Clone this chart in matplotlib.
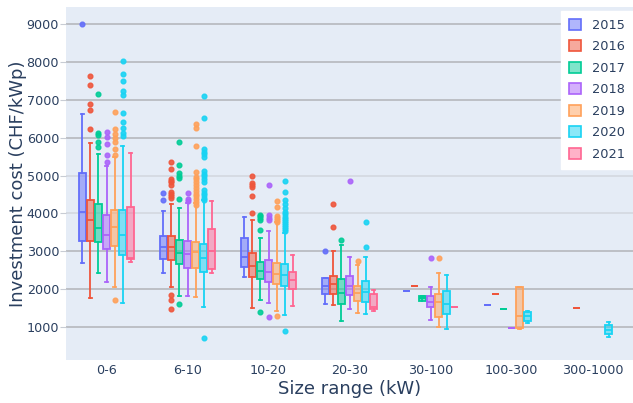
import matplotlib
matplotlib.use("Agg")
import matplotlib.pyplot as plt
from matplotlib.patches import Patch
from matplotlib.colors import to_rgba

plt.rcParams['font.family'] = ['DejaVu Sans']

categories = ["0-6", "6-10", "10-20", "20-30", "30-100", "100-300", "300-1000"]
years = ["2015", "2016", "2017", "2018", "2019", "2020", "2021"]
colors = ["#636efa", "#EF553B", "#00cc96", "#ab63fa", "#FFA15A", "#19d3f3", "#FF6692"]

# per-year box statistics over categories (None = no data)
lo_2015 = [2680, 2416, 2328, 1607, 1959, 1580, None]
q1_2015 = [3277, 2786, 2592, 1871, 1959, 1580, None]
med_2015 = [4043, 3119, 2838, 2082, 1959, 1580, None]
q3_2015 = [5072, 3410, 3339, 2284, 1959, 1580, None]
hi_2015 = [6638, 4061, 3911, 2284, 1959, 1580, None]
fl_2015 = [[8990], [4530, 4350], [], [3000], [], [], []]

lo_2016 = [1757, 2047, 1493, 1589, 2074, 1862, 1510]
q1_2016 = [3277, 2768, 2328, 1863, 2074, 1862, 1510]
med_2016 = [3814, 3119, 2618, 2135, 2074, 1862, 1510]
q3_2016 = [4343, 3401, 2944, 2354, 2074, 1862, 1510]
hi_2016 = [5864, 4245, 3823, 2997, 2074, 1862, 1510]
fl_2016 = [[7620, 7390, 6880, 6740, 6220],
           [5370, 5180, 4900, 4860, 4820, 4750, 4570, 4520, 4450, 4400, 1840, 1710, 1480],
           [4990, 4810, 4760, 4700, 4470, 4000], [4260, 3630], [], [], []]

lo_2017 = [2434, 1826, 1704, 1150, 1765, 1467, None]
q1_2017 = [3233, 2653, 2266, 1607, 1695, 1467, None]
med_2017 = [3621, 2944, 2486, 1906, 1765, 1467, None]
q3_2017 = [4245, 3295, 2724, 2266, 1827, 1467, None]
hi_2017 = [5565, 4148, 3348, 3164, 1827, 1467, None]
fl_2017 = [[7160, 6130, 6070, 5890, 5750],
           [5890, 5280, 5070, 4990, 4940, 4370, 1610],
           [3970, 3920, 3870, 3820, 3560, 1390], [3290], [], [], []]

lo_2018 = [2196, 1818, 1642, 1467, 1185, 974, None]
q1_2018 = [3058, 2565, 2196, 1836, 1536, 974, None]
med_2018 = [3436, 2926, 2460, 2090, 1660, 974, None]
q3_2018 = [3955, 3277, 2768, 2354, 1818, 974, None]
hi_2018 = [5240, 4263, 3541, 2838, 2047, 974, None]
fl_2018 = [[6160, 6010, 5830, 5550, 5350], [4530, 4370, 4330],
           [4760, 3950, 3880, 3820, 1270], [4860], [2820], [], []]

lo_2019 = [2064, 1800, 1422, 1378, 1009, 939, None]
q1_2019 = [3153, 2565, 2127, 1686, 1273, 965, None]
med_2019 = [3630, 2987, 2398, 1889, 1651, 1290, None]
q3_2019 = [4087, 3251, 2680, 2090, 1871, 2047, None]
hi_2019 = [5477, 4263, 3770, 2636, 2416, 2064, None]
fl_2019 = [[6670, 6230, 6090, 5980, 5880, 5700, 5530, 1720],
           [6350, 6260, 5790, 5100, 4970, 4900, 4820, 4750, 4680, 4600, 4520, 4450, 4380, 4300, 4230],
           [4330, 4180, 3930, 3870, 3820, 3770, 1300], [2740], [2810], [], []]

lo_2020 = [1642, 1519, 1317, 1352, 947, 1114, 744]
q1_2020 = [2909, 2460, 2090, 1651, 1335, 1158, 807]
med_2020 = [3436, 2812, 2372, 1933, 1607, 1290, 921]
q3_2020 = [4087, 3180, 2660, 2222, 1941, 1396, 1044]
hi_2020 = [5785, 4351, 3480, 2855, 2372, 1431, 1141]
fl_2020 = [[8020, 7680, 7490, 7240, 7120, 6660, 6420, 6260, 6130, 6040],
           [7090, 6510, 5700, 5630, 5560, 5500, 5120, 5050, 4980, 4900, 4830, 4620, 4550, 4480, 4420, 4360, 700],
           [4860, 4570, 4350, 4250, 4150, 4050, 3980, 3900, 3850, 3800, 3750, 3700, 3650, 3600, 3530, 900],
           [3780, 3120], [], [], []]

lo_2021 = [2707, 2416, 1546, 1431, 1519, None, None]
q1_2021 = [2790, 2530, 2011, 1467, 1519, None, None]
med_2021 = [2812, 3014, 2240, 1536, 1519, None, None]
q3_2021 = [4166, 3577, 2460, 1871, 1519, None, None]
hi_2021 = [5608, 4324, 2900, 1976, 1519, None, None]
fl_2021 = [[], [], [], [], [], [], []]

series = [
    (lo_2015, q1_2015, med_2015, q3_2015, hi_2015, fl_2015),
    (lo_2016, q1_2016, med_2016, q3_2016, hi_2016, fl_2016),
    (lo_2017, q1_2017, med_2017, q3_2017, hi_2017, fl_2017),
    (lo_2018, q1_2018, med_2018, q3_2018, hi_2018, fl_2018),
    (lo_2019, q1_2019, med_2019, q3_2019, hi_2019, fl_2019),
    (lo_2020, q1_2020, med_2020, q3_2020, hi_2020, fl_2020),
    (lo_2021, q1_2021, med_2021, q3_2021, hi_2021, fl_2021),
]

text_color = "#2a3f5f"
fig = plt.figure(figsize=(6.33, 4.03), dpi=100)
ax = fig.add_axes([66/633, 1-360/403, 567/633, 353/403])
ax.set_facecolor("#E5ECF6")
for s in ax.spines.values():
    s.set_visible(False)

n = len(years)
slot = 0.0988
bw = 0.083
for j, (yr, col, (lo, q1, med, q3, hi, fl)) in enumerate(zip(years, colors, series)):
    stats, pos = [], []
    for i in range(len(categories)):
        if med[i] is None:
            continue
        stats.append(dict(whislo=lo[i], q1=q1[i], med=med[i], q3=q3[i], whishi=hi[i], fliers=fl[i]))
        pos.append(i + (j - (n - 1) / 2) * slot)
    ax.bxp(stats, positions=pos, widths=bw, patch_artist=True, manage_ticks=False,
           capwidths=bw * 0.3,
           boxprops=dict(facecolor=to_rgba(col, 0.5), edgecolor=col, linewidth=1.3),
           medianprops=dict(color=col, linewidth=1.3),
           whiskerprops=dict(color=col, linewidth=1.3),
           capprops=dict(color=col, linewidth=1.3),
           flierprops=dict(marker='o', markerfacecolor=col, markeredgecolor=col,
                           markersize=3.4, linestyle='none', alpha=0.9),
           zorder=3)

ax.set_xlim(-0.5, len(categories) - 0.5)
ax.set_ylim(130, 9450)
ax.set_xticks(range(len(categories)))
ax.set_xticklabels(categories)
ax.set_yticks(range(1000, 10000, 1000))
ax.tick_params(axis='x', length=0, labelsize=9.2, labelcolor=text_color, pad=3)
ax.tick_params(axis='y', length=4, color="#c8ccd4", labelsize=9.2, labelcolor=text_color, pad=1)
ax.grid(axis='y', color="#bcbfc5", linewidth=1.4, zorder=0)
ax.set_axisbelow(True)
light = {5000, 4000}
for val, gl in zip(ax.get_yticks(), ax.get_ygridlines()):
    if val in light:
        gl.set_color("#d6dbe3")

ax.set_xlabel("Size range (kW)", fontsize=13, color=text_color, labelpad=2)
ax.set_ylabel("Investment cost (CHF/kWp)", fontsize=13, color=text_color)
ax.yaxis.set_label_coords(-0.069, 0.5)

handles = [Patch(facecolor=to_rgba(c, 0.5), edgecolor=c, linewidth=1.2, label=y)
           for y, c in zip(years, colors)]
leg = ax.legend(handles=handles, loc='upper right', bbox_to_anchor=(1.0, 0.989),
                borderaxespad=0, fontsize=9.3, frameon=True, fancybox=False,
                handlelength=0.9, handleheight=0.9, handletextpad=0.9,
                labelspacing=0.66, borderpad=0.6, labelcolor=text_color)
leg.get_frame().set_facecolor("white")
leg.get_frame().set_edgecolor("white")
leg.get_frame().set_alpha(1.0)

fig.savefig("out.png", dpi=100)
